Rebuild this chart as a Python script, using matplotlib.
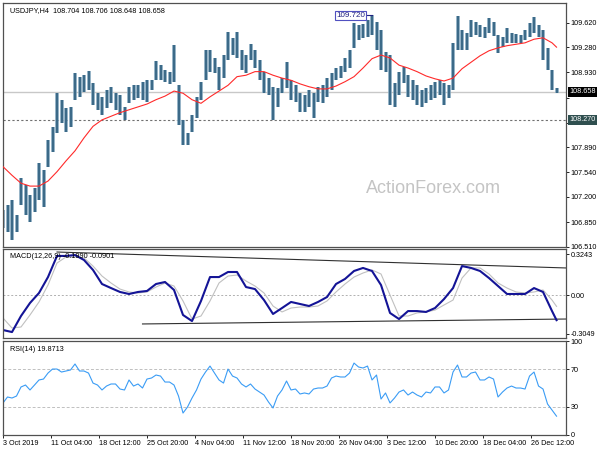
import numpy as np
import matplotlib
matplotlib.use("Agg")
import matplotlib.pyplot as plt

plt.rcParams['font.family'] = ['Liberation Sans', 'DejaVu Sans']

# H4 bars, one kept every 3 bars (bar index 0..369)
bar_idx = np.arange(0, 372, 3)
highs = [107.02, 107.09, 107.16, 106.95, 107.46, 107.37, 107.23, 107.32, 107.67, 107.57,
         107.99, 108.17, 108.64, 108.55, 108.43, 108.45, 108.92, 108.87, 108.89, 108.95,
         108.78, 108.64, 108.59, 108.69, 108.73, 108.64, 108.62, 108.45, 108.73, 108.75,
         108.75, 108.80, 108.82, 108.82, 109.09, 109.03, 108.96, 108.94, 109.31, 108.75,
         108.27, 108.09, 108.34, 108.59, 108.80, 109.24, 109.24, 109.13, 109.00, 109.17,
         109.49, 109.41, 109.49, 109.24, 109.17, 109.32, 109.24, 109.10, 108.94, 108.85,
         108.73, 108.71, 108.85, 109.07, 108.82, 108.75, 108.64, 108.62, 108.69, 108.64,
         108.73, 108.75, 108.85, 108.92, 108.99, 109.02, 109.13, 109.24, 109.62, 109.59,
         109.60, 109.66, 109.72, 109.63, 109.52, 109.21, 109.17, 108.78, 108.94, 109.00,
         108.89, 108.82, 108.76, 108.69, 108.71, 108.75, 108.80, 108.82, 108.78, 108.76,
         109.34, 109.71, 109.52, 109.48, 109.66, 109.63, 109.59, 109.56, 109.69, 109.63,
         109.45, 109.42, 109.55, 109.48, 109.46, 109.45, 109.52, 109.62, 109.70, 109.59,
         109.52, 109.27, 108.96, 108.706]
lows = [106.77, 106.71, 106.60, 106.71, 107.09, 106.95, 106.85, 106.99, 107.16, 107.06,
        107.62, 107.82, 108.09, 108.23, 108.10, 108.17, 108.55, 108.59, 108.66, 108.69,
        108.48, 108.41, 108.34, 108.44, 108.50, 108.41, 108.34, 108.27, 108.50, 108.55,
        108.57, 108.55, 108.52, 108.69, 108.82, 108.82, 108.80, 108.77, 108.80, 108.20,
        107.92, 107.92, 108.10, 108.30, 108.55, 108.82, 108.94, 108.92, 108.69, 108.85,
        109.10, 109.17, 109.13, 108.96, 108.92, 109.10, 108.99, 108.82, 108.64, 108.62,
        108.27, 108.45, 108.64, 108.71, 108.55, 108.52, 108.38, 108.38, 108.45, 108.30,
        108.52, 108.50, 108.59, 108.69, 108.82, 108.85, 108.94, 108.99, 109.27, 109.38,
        109.41, 109.42, 109.45, 109.24, 108.96, 108.94, 108.48, 108.45, 108.62, 108.78,
        108.59, 108.55, 108.48, 108.45, 108.50, 108.55, 108.57, 108.62, 108.48, 108.57,
        108.69, 109.24, 109.24, 109.24, 109.42, 109.45, 109.42, 109.41, 109.48, 109.44,
        109.20, 109.28, 109.34, 109.34, 109.34, 109.34, 109.38, 109.42, 109.48, 109.42,
        109.10, 108.96, 108.69, 108.648]

# indicator lines, one point every 6 bars plus the last bar
line_idx = np.append(np.arange(0, 367, 6), 369)
ma = [107.62, 107.50, 107.39, 107.35, 107.35, 107.42, 107.55, 107.70, 107.84, 108.02,
      108.18, 108.27, 108.32, 108.37, 108.41, 108.45, 108.49, 108.55, 108.60, 108.67,
      108.64, 108.55, 108.50, 108.59, 108.67, 108.75, 108.87, 108.89, 108.94, 108.94,
      108.89, 108.85, 108.82, 108.77, 108.73, 108.70, 108.70, 108.74, 108.80, 108.87,
      108.99, 109.12, 109.17, 109.13, 109.03, 108.99, 108.94, 108.88, 108.84, 108.81,
      108.85, 108.98, 109.07, 109.16, 109.23, 109.27, 109.30, 109.32, 109.34, 109.39,
      109.41, 109.34, 109.28]
macd = [-0.277, -0.293, -0.166, -0.063, 0.016, 0.142, 0.309, 0.309, 0.316, 0.277,
        0.198, 0.087, 0.055, 0.024, 0.008, 0.024, 0.032, 0.087, 0.103, 0.040,
        -0.158, -0.206, -0.047, 0.142, 0.142, 0.182, 0.182, 0.063, 0.047, -0.040,
        -0.150, -0.103, -0.055, -0.071, -0.087, -0.055, -0.016, 0.087, 0.127, 0.190,
        0.214, 0.190, 0.079, -0.142, -0.190, -0.127, -0.127, -0.134, -0.103, -0.032,
        0.055, 0.229, 0.214, 0.190, 0.134, 0.071, 0.008, 0.008, 0.008, 0.055,
        0.024, -0.127, -0.199]
signal = [-0.182, -0.261, -0.253, -0.158, -0.055, 0.079, 0.253, 0.301, 0.301, 0.293,
          0.229, 0.150, 0.095, 0.047, 0.024, 0.016, 0.024, 0.063, 0.095, 0.071,
          -0.047, -0.190, -0.166, -0.047, 0.095, 0.150, 0.158, 0.111, 0.071, 0.016,
          -0.087, -0.134, -0.103, -0.095, -0.095, -0.087, -0.047, 0.024, 0.087, 0.142,
          0.174, 0.198, 0.166, 0.000, -0.166, -0.166, -0.142, -0.134, -0.119, -0.079,
          -0.040, 0.134, 0.214, 0.214, 0.166, 0.095, 0.055, 0.024, 0.016, 0.024,
          0.040, -0.040, -0.090]
rsi = [34.0, 40.4, 39.3, 41.4, 51.1, 53.2, 47.9, 53.2, 58.6, 59.6,
       66.0, 70.3, 70.3, 67.1, 68.2, 69.3, 75.7, 68.2, 68.2, 66.0,
       55.3, 53.2, 47.9, 52.1, 54.3, 54.3, 48.9, 47.9, 58.6, 52.1,
       54.3, 50.0, 59.6, 60.7, 63.9, 62.8, 56.4, 56.4, 53.2, 41.4,
       23.2, 29.7, 39.3, 47.9, 59.6, 67.1, 73.5, 66.0, 58.6, 55.3,
       70.3, 62.8, 60.7, 54.3, 51.1, 54.3, 48.9, 45.7, 42.5, 35.0,
       28.6, 41.4, 47.9, 57.5, 47.9, 48.9, 43.6, 44.7, 43.6, 48.9,
       50.0, 50.0, 52.1, 60.7, 62.8, 61.8, 61.8, 66.0, 76.7, 72.5,
       71.4, 73.5, 58.6, 63.9, 38.2, 44.7, 34.0, 39.3, 45.7, 47.9,
       42.5, 45.7, 42.5, 40.4, 45.7, 44.7, 51.1, 51.1, 44.7, 47.9,
       67.1, 74.6, 61.8, 61.8, 66.0, 67.1, 58.6, 58.6, 61.8, 59.6,
       40.4, 45.7, 50.0, 52.1, 50.0, 50.0, 48.9, 62.8, 67.1, 52.1,
       48.9, 32.9, 26.4, 19.87]

# trend lines drawn on the MACD window (bar index, value)
upper_x, upper_y = [36, 375], [0.340, 0.214]
lower_x, lower_y = [93, 375], [-0.229, -0.190]

price_ticks = [106.510, 106.850, 107.200, 107.540, 107.890, 108.230, 108.580, 108.930, 109.280, 109.620]
hidden_ticks = [108.230, 108.580]  # covered by the price boxes
last_price = 108.658
level = 108.270
top_price = 109.720
top_idx = 246

date_idx = np.arange(0, 353, 32)
date_labels = ['3 Oct 2019', '11 Oct 04:00', '18 Oct 12:00', '25 Oct 20:00', '4 Nov 04:00',
               '11 Nov 12:00', '18 Nov 20:00', '26 Nov 04:00', '3 Dec 12:00', '10 Dec 20:00',
               '18 Dec 04:00', '26 Dec 12:00']

FS = 5.2
XMAX = 375.3


def style_axis(ax):
    ax.set_xlim(0, XMAX)
    ax.yaxis.tick_right()
    ax.tick_params(axis='y', direction='out', length=2, width=0.6, pad=1.5, labelsize=FS)
    ax.set_xticks([])
    for s in ax.spines.values():
        s.set_color('#505050')
        s.set_linewidth(0.9)


fig = plt.figure(figsize=(6, 4.5), dpi=100)
ax1 = fig.add_axes([0.005, 0.4511, 0.9383, 0.5422])
ax2 = fig.add_axes([0.005, 0.2489, 0.9383, 0.1978])
ax3 = fig.add_axes([0.005, 0.0333, 0.9383, 0.2089])

# price window
style_axis(ax1)
ax1.set_ylim(106.504, 109.893)
ax1.axhline(last_price, color='#c8c8c8', lw=1, zorder=1)
ax1.axhline(level, color='#707070', lw=0.8, ls=(0, (2, 2)), zorder=1)
ax1.vlines(bar_idx, lows, highs, color='#7fa3ba', lw=2.6, zorder=2)
ax1.vlines(bar_idx, lows, highs, color='#2f5f7e', lw=1.2, zorder=2)
ax1.plot(line_idx, ma, color='#ff2a2a', lw=0.8, zorder=3)
ax1.set_yticks(price_ticks)
ax1.set_yticklabels(['' if t in hidden_ticks else '%.3f' % t for t in price_ticks])
ax1.text(1.006, last_price, '%.3f' % last_price, transform=ax1.get_yaxis_transform(),
         fontsize=FS, color='white', va='center', ha='left',
         bbox=dict(boxstyle='square,pad=0.2', fc='black', ec='none'))
ax1.text(1.006, level, '%.3f' % level, transform=ax1.get_yaxis_transform(),
         fontsize=FS, color='white', va='center', ha='left',
         bbox=dict(boxstyle='square,pad=0.2', fc='#2f4f4f', ec='none'))
ax1.plot([top_idx - 4, top_idx], [top_price, top_price], color='#202080', lw=0.8)
ax1.text(top_idx - 4.5, top_price, '%.3f' % top_price, fontsize=FS + 0.6, color='#202080',
         ha='right', va='center',
         bbox=dict(boxstyle='square,pad=0.15', fc='white', ec='#5050c0', lw=0.8))
ax1.text(0.012, 0.985, 'USDJPY,H4  108.704 108.706 108.648 108.658', transform=ax1.transAxes,
         fontsize=FS, va='top', ha='left')
ax1.text(287, 107.31, 'ActionForex.com', fontsize=13, color='#c4c4c4', ha='center', va='center')

# MACD window
style_axis(ax2)
ax2.set_ylim(-0.340, 0.364)
ax2.axhline(0, color='#b0b0b0', lw=0.7, ls=(0, (2, 2)))
ax2.plot(upper_x, upper_y, color='#303030', lw=0.8)
ax2.plot(lower_x, lower_y, color='#303030', lw=0.8)
ax2.plot(line_idx, signal, color='#c0c0c0', lw=0.8)
ax2.plot(line_idx, macd, color='#141496', lw=1.5)
ax2.set_yticks([0.3243, 0.0, -0.3049])
ax2.set_yticklabels(['0.3243', '0.00', '-0.3049'])
ax2.text(0.012, 0.95, 'MACD(12,26,9) -0.1990 -0.0901', transform=ax2.transAxes,
         fontsize=FS, va='top', ha='left')

# RSI window
style_axis(ax3)
ax3.set_ylim(-0.3, 100.3)
ax3.axhline(70, color='#c0c0c0', lw=0.7, ls=(0, (3, 2)))
ax3.axhline(30, color='#c0c0c0', lw=0.7, ls=(0, (3, 2)))
ax3.plot(bar_idx, rsi, color='#3a9cf5', lw=0.8)
ax3.set_yticks([100, 70, 30, 0])
ax3.set_yticklabels(['100', '70', '30', '0'])
ax3.text(0.012, 0.95, 'RSI(14) 19.8713', transform=ax3.transAxes,
         fontsize=FS, va='top', ha='left')
ax3.set_xticks(date_idx)
ax3.set_xticklabels(date_labels, ha='left')
ax3.tick_params(axis='x', direction='out', length=2.5, width=0.6, pad=1, labelsize=FS)

fig.savefig('out.png', dpi=100, facecolor='white')
